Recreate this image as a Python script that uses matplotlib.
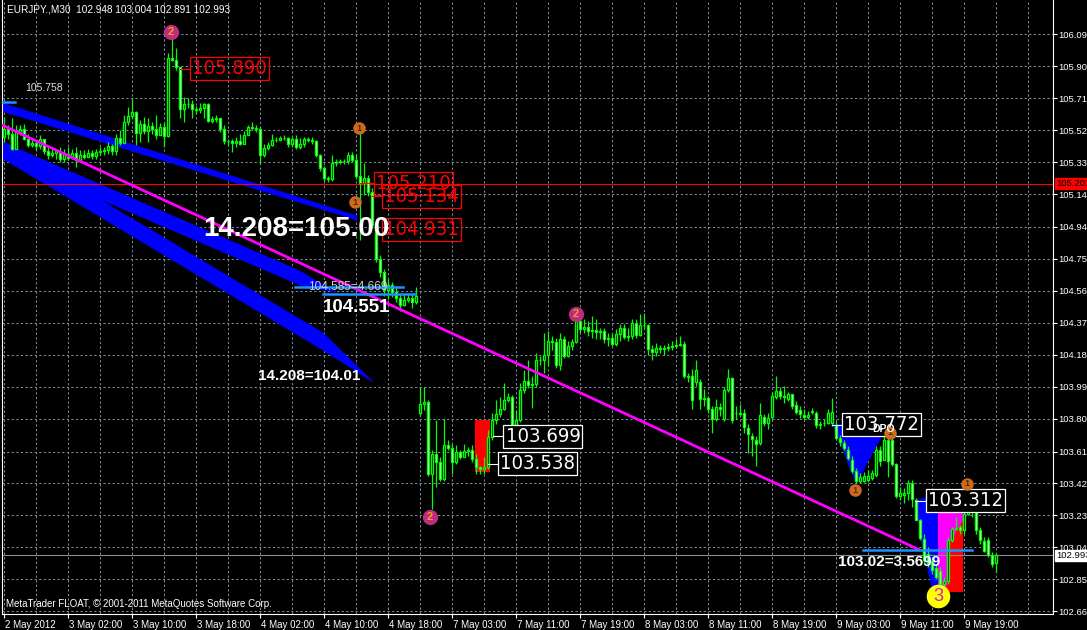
import matplotlib
matplotlib.use("Agg")
import matplotlib.pyplot as plt
import numpy as np
from matplotlib import font_manager
from matplotlib.patches import Polygon
from matplotlib.transforms import blended_transform_factory, ScaledTranslation

plt.rcParams["font.family"] = ["Liberation Sans", "DejaVu Sans"]

# ---- EURJPY M30 candles ----
opens = [
    105.480, 105.530, 105.500, 105.410, 105.510, 105.530, 105.470, 105.434, 105.446, 105.426,
    105.466, 105.394, 105.374, 105.386, 105.394, 105.350, 105.380, 105.354, 105.386, 105.340,
    105.374, 105.360, 105.386, 105.366, 105.390, 105.394, 105.400, 105.426, 105.394, 105.474,
    105.446, 105.566, 105.606, 105.626, 105.506, 105.554, 105.514, 105.546, 105.526, 105.494,
    105.538, 105.486, 105.950, 105.938, 105.894, 105.646, 105.674, 105.678, 105.646, 105.642,
    105.650, 105.674, 105.574, 105.586, 105.590, 105.530, 105.454, 105.454, 105.442, 105.458,
    105.438, 105.494, 105.542, 105.534, 105.530, 105.374, 105.414, 105.430, 105.462, 105.460,
    105.472, 105.476, 105.438, 105.470, 105.422, 105.436, 105.466, 105.462, 105.454, 105.370,
    105.294, 105.234, 105.230, 105.326, 105.330, 105.336, 105.336, 105.370, 105.342, 105.250,
    105.206, 105.236, 105.152, 104.956, 104.756, 104.680, 104.572, 104.600, 104.560, 104.520,
    104.480, 104.512, 104.520, 104.500, 103.840, 103.892, 103.906, 103.476, 103.596, 103.546,
    103.446, 103.646, 103.632, 103.546, 103.606, 103.580, 103.612, 103.620, 103.566, 103.516,
    103.506, 103.520, 103.696, 103.796, 103.832, 103.864, 103.916, 103.932, 103.766, 103.800,
    103.976, 104.032, 104.006, 104.012, 104.156, 104.156, 104.186, 104.266, 104.260, 104.126,
    104.276, 104.180, 104.240, 104.260, 104.386, 104.340, 104.352, 104.324, 104.332, 104.320,
    104.328, 104.280, 104.284, 104.252, 104.306, 104.344, 104.288, 104.296, 104.372, 104.300,
    104.364, 104.360, 104.220, 104.204, 104.228, 104.220, 104.224, 104.232, 104.236, 104.244,
    104.252, 104.056,
    104.057, 104.021, 104.021, 103.925, 103.929, 103.865, 103.805, 103.877, 103.805, 103.977,
    104.045, 103.837, 103.841, 103.837, 103.749, 103.701, 103.681, 103.661, 103.817, 103.777,
    103.813, 103.933, 103.969, 103.941, 103.925, 103.949, 103.885, 103.857, 103.829, 103.813,
    103.845, 103.841, 103.765, 103.777, 103.777, 103.781, 103.769, 103.693, 103.661, 103.621,
    103.561, 103.493, 103.433, 103.433, 103.441, 103.453, 103.473, 103.617, 103.561, 103.677,
    103.681, 103.533, 103.345, 103.353, 103.365, 103.421, 103.321, 103.201, 103.089, 103.001,
    102.957, 102.917, 102.897, 102.825, 102.841, 103.081, 103.149, 103.161, 103.141, 103.241,
    103.325, 103.261, 103.141, 103.077, 103.081, 102.993, 102.948,
]
closes = [
    105.530, 105.500, 105.410, 105.510, 105.530, 105.470, 105.434, 105.446, 105.426, 105.466,
    105.394, 105.374, 105.386, 105.394, 105.350, 105.380, 105.354, 105.386, 105.340, 105.374,
    105.360, 105.386, 105.366, 105.390, 105.394, 105.400, 105.426, 105.394, 105.474, 105.446,
    105.566, 105.606, 105.626, 105.506, 105.554, 105.514, 105.546, 105.526, 105.494, 105.538,
    105.486, 105.950, 105.938, 105.894, 105.646, 105.674, 105.678, 105.646, 105.642, 105.650,
    105.674, 105.574, 105.586, 105.590, 105.530, 105.454, 105.454, 105.442, 105.458, 105.438,
    105.494, 105.542, 105.534, 105.530, 105.374, 105.414, 105.430, 105.462, 105.460, 105.472,
    105.476, 105.438, 105.470, 105.422, 105.436, 105.466, 105.462, 105.454, 105.370, 105.294,
    105.234, 105.230, 105.326, 105.330, 105.336, 105.336, 105.370, 105.342, 105.250, 105.206,
    105.236, 105.152, 104.956, 104.756, 104.680, 104.572, 104.600, 104.560, 104.520, 104.480,
    104.512, 104.520, 104.500, 104.532, 103.892, 103.906, 103.476, 103.596, 103.546, 103.446,
    103.646, 103.632, 103.546, 103.606, 103.580, 103.612, 103.620, 103.566, 103.516, 103.506,
    103.520, 103.696, 103.796, 103.832, 103.864, 103.916, 103.932, 103.766, 103.800, 103.976,
    104.032, 104.006, 104.012, 104.156, 104.156, 104.186, 104.266, 104.260, 104.126, 104.276,
    104.180, 104.240, 104.260, 104.386, 104.340, 104.352, 104.324, 104.332, 104.320, 104.328,
    104.280, 104.284, 104.252, 104.306, 104.344, 104.288, 104.296, 104.372, 104.300, 104.364,
    104.360, 104.220, 104.204, 104.228, 104.220, 104.224, 104.232, 104.236, 104.244, 104.252,
    104.056, 104.052,
    103.917, 104.097, 103.925, 103.929, 103.865, 103.805, 103.877, 103.865, 103.977, 104.045,
    103.797, 103.841, 103.833, 103.753, 103.713, 103.685, 103.653, 103.829, 103.777, 103.809,
    103.937, 103.969, 103.941, 103.933, 103.949, 103.881, 103.845, 103.833, 103.813, 103.829,
    103.849, 103.765, 103.773, 103.781, 103.837, 103.845, 103.693, 103.665, 103.633, 103.573,
    103.493, 103.433, 103.461, 103.465, 103.465, 103.481, 103.617, 103.553, 103.677, 103.553,
    103.533, 103.345, 103.361, 103.365, 103.421, 103.325, 103.205, 103.093, 102.965, 102.945,
    102.905, 102.865, 102.825, 102.841, 103.081, 103.149, 103.157, 103.145, 103.241, 103.325,
    103.265, 103.141, 103.081, 103.021, 102.993, 102.941, 102.993,
]
highs = [
    105.590, 105.550, 105.590, 105.550, 105.550, 105.554, 105.500, 105.470, 105.460, 105.490,
    105.460, 105.420, 105.410, 105.410, 105.420, 105.410, 105.420, 105.410, 105.420, 105.400,
    105.400, 105.410, 105.400, 105.410, 105.420, 105.420, 105.450, 105.440, 105.500, 105.520,
    105.610, 105.660, 105.710, 105.634, 105.580, 105.600, 105.590, 105.570, 105.610, 105.560,
    105.560, 105.980, 106.070, 106.010, 105.894, 105.720, 105.710, 105.700, 105.666, 105.680,
    105.680, 105.680, 105.606, 105.610, 105.590, 105.550, 105.470, 105.470, 105.480, 105.500,
    105.514, 105.550, 105.566, 105.550, 105.540, 105.440, 105.450, 105.500, 105.480, 105.486,
    105.490, 105.480, 105.480, 105.490, 105.474, 105.480, 105.480, 105.480, 105.460, 105.380,
    105.310, 105.250, 105.370, 105.350, 105.350, 105.350, 105.390, 105.390, 105.380, 105.510,
    105.326, 105.256, 105.176, 104.976, 104.776, 104.696, 104.636, 104.616, 104.586, 104.546,
    104.546, 104.546, 104.546, 104.586, 103.996, 103.996, 103.916, 103.616, 103.796, 103.576,
    103.806, 103.676, 103.656, 103.646, 103.616, 103.656, 103.636, 103.646, 103.596, 103.526,
    103.576, 103.736, 103.836, 103.916, 103.936, 104.016, 103.956, 103.946, 103.856, 104.016,
    104.096, 104.156, 104.056, 104.196, 104.176, 104.316, 104.326, 104.296, 104.286, 104.316,
    104.296, 104.266, 104.276, 104.436, 104.426, 104.396, 104.386, 104.416, 104.396, 104.346,
    104.346, 104.316, 104.316, 104.336, 104.366, 104.366, 104.346, 104.396, 104.396, 104.426,
    104.436, 104.366, 104.246, 104.256, 104.246, 104.246, 104.256, 104.266, 104.276, 104.296,
    104.266, 104.076,
    104.101, 104.151, 104.041, 103.981, 103.941, 103.881, 103.921, 103.901, 103.991, 104.101,
    104.051, 103.881, 103.891, 103.861, 103.771, 103.721, 103.701, 103.901, 103.831, 103.841,
    103.961, 104.061, 103.991, 104.001, 103.961, 103.951, 103.911, 103.881, 103.861, 103.851,
    103.871, 103.851, 103.791, 103.801, 103.861, 103.931, 103.791, 103.711, 103.681, 103.641,
    103.581, 103.511, 103.481, 103.491, 103.501, 103.501, 103.641, 103.641, 103.701, 103.701,
    103.731, 103.541, 103.401, 103.391, 103.441, 103.441, 103.331, 103.211, 103.121, 103.041,
    102.981, 102.941, 102.921, 102.861, 103.101, 103.161, 103.221, 103.171, 103.261, 103.381,
    103.341, 103.271, 103.161, 103.101, 103.101, 103.011, 103.004,
]
lows = [
    105.450, 105.470, 105.400, 105.410, 105.490, 105.460, 105.420, 105.420, 105.400, 105.410,
    105.380, 105.350, 105.360, 105.350, 105.330, 105.330, 105.340, 105.350, 105.300, 105.330,
    105.350, 105.360, 105.350, 105.350, 105.370, 105.370, 105.380, 105.370, 105.370, 105.430,
    105.470, 105.550, 105.590, 105.430, 105.450, 105.500, 105.450, 105.500, 105.470, 105.500,
    105.420, 105.480, 105.930, 105.880, 105.590, 105.570, 105.650, 105.590, 105.620, 105.620,
    105.590, 105.566, 105.560, 105.570, 105.510, 105.440, 105.430, 105.390, 105.420, 105.430,
    105.446, 105.490, 105.520, 105.510, 105.326, 105.360, 105.400, 105.426, 105.450, 105.460,
    105.460, 105.420, 105.420, 105.410, 105.406, 105.420, 105.450, 105.440, 105.360, 105.280,
    105.220, 105.210, 105.220, 105.310, 105.320, 105.320, 105.320, 105.330, 105.230, 104.870,
    105.136, 105.126, 104.936, 104.736, 104.646, 104.536, 104.516, 104.526, 104.496, 104.446,
    104.476, 104.496, 104.466, 104.486, 103.826, 103.856, 103.466, 103.266, 103.396, 103.436,
    103.436, 103.616, 103.476, 103.536, 103.566, 103.576, 103.586, 103.546, 103.476, 103.476,
    103.476, 103.506, 103.676, 103.776, 103.816, 103.856, 103.906, 103.756, 103.756, 103.786,
    103.956, 103.986, 103.866, 103.996, 104.126, 104.076, 104.126, 104.216, 104.106, 104.096,
    104.166, 104.172, 104.216, 104.256, 104.316, 104.316, 104.296, 104.286, 104.276, 104.276,
    104.256, 104.236, 104.236, 104.236, 104.266, 104.276, 104.266, 104.276, 104.286, 104.296,
    104.346, 104.186, 104.156, 104.176, 104.196, 104.186, 104.206, 104.216, 104.226, 104.236,
    104.046, 104.026,
    103.861, 104.001, 103.861, 103.881, 103.841, 103.721, 103.791, 103.821, 103.791, 103.961,
    103.781, 103.801, 103.821, 103.721, 103.601, 103.581, 103.521, 103.651, 103.761, 103.741,
    103.801, 103.921, 103.921, 103.901, 103.911, 103.861, 103.831, 103.811, 103.801, 103.801,
    103.831, 103.751, 103.741, 103.761, 103.771, 103.761, 103.681, 103.641, 103.621, 103.561,
    103.481, 103.421, 103.421, 103.431, 103.431, 103.441, 103.461, 103.521, 103.561, 103.461,
    103.521, 103.331, 103.321, 103.301, 103.321, 103.281, 103.201, 103.081, 102.941, 102.921,
    102.881, 102.851, 102.801, 102.811, 102.821, 103.071, 103.141, 103.121, 103.121, 103.231,
    103.221, 103.121, 103.061, 103.011, 102.981, 102.921, 102.891,
]

ytick_vals = [106.090, 105.900, 105.710, 105.520, 105.330, 105.140, 104.945, 104.755,
              104.565, 104.375, 104.185, 103.995, 103.805, 103.610, 103.420, 103.230,
              103.040, 102.850, 102.660]
xtick_bars = list(range(0, 241, 16))
xtick_labels = ["2 May 2012", "3 May 02:00", "3 May 10:00", "3 May 18:00", "4 May 02:00",
                "4 May 10:00", "4 May 18:00", "7 May 03:00", "7 May 11:00", "7 May 19:00",
                "8 May 03:00", "8 May 11:00", "8 May 19:00", "9 May 03:00", "9 May 11:00",
                "9 May 19:00"]

# indicator objects (bar index, price)
band1 = [(-0.4, 105.682), (88.4, 105.010), (88.4, 104.986), (-0.4, 105.634)]
band2 = [(-0.4, 105.450), (74.1, 104.683), (82.9, 104.558), (74.1, 104.600), (-0.4, 105.361)]
band3 = [(-0.4, 105.456), (79.9, 104.314), (92.4, 104.023), (79.9, 104.213), (-0.4, 105.355)]
trend_line = [(-0.4, 105.551), (229.1, 103.024)]
blue_levels = [(-0.1, 2.9, 105.689), (72.9, 99.9, 104.588), (79.9, 102.9, 104.546),
               (214.9, 242.1, 103.022)]
red_zone = [(117.9, 103.797), (121.6, 103.797), (121.6, 103.488), (117.9, 103.488)]
dpo_blue = [(207.1, 103.773), (221.6, 103.773), (219.1, 103.678), (216.1, 103.547),
            (213.4, 103.417), (211.6, 103.500), (209.9, 103.619), (208.4, 103.708)]
end_blue = [(227.9, 103.321), (239.9, 103.393), (239.9, 103.244), (233.6, 103.244),
            (233.6, 102.816), (232.1, 102.798), (229.6, 103.054)]
end_magenta = [(233.6, 103.244), (239.9, 103.256), (239.9, 103.173), (235.9, 103.036),
               (235.9, 102.798), (233.6, 102.798)]
end_red = [(235.9, 103.036), (239.9, 103.203), (239.9, 102.775), (235.9, 102.775)]

# boxed price labels: text, leader start, leader end, price, colour
price_boxes = [
    ("105.890", 44.1, 46.6, 105.884, "#FF0000"),
    ("105.210", 89.1, 92.6, 105.206, "#FF0000"),
    ("105.134", 92.1, 94.6, 105.128, "#FF0000"),
    ("104.931", 94.6, 94.6, 104.927, "#FF0000"),
    ("103.699", 122.4, 124.9, 103.702, "#FFFFFF"),
    ("103.538", 121.1, 123.6, 103.536, "#FFFFFF"),
    ("103.772", 207.1, 209.6, 103.770, "#FFFFFF"),
    ("103.312", 227.9, 230.6, 103.316, "#FFFFFF"),
]
# wave markers: label, bar, price
wave_marks_2 = [("2", 41.9, 106.104), ("2", 143.1, 104.427), ("2", 106.6, 103.220)]
wave_marks_1 = [("1", 88.9, 105.533), ("1", 87.9, 105.093), ("1", 212.9, 103.381),
                ("1", 240.9, 103.417), ("1", 221.6, 103.720)]
wave_marks_3 = [("3", 233.6, 102.751)]

last_price = 102.993
red_level = 105.201

W, H = 1087, 630
fig = plt.figure(figsize=(W / 100, H / 100), dpi=100, facecolor="black")
ax = fig.add_axes([2 / W, 16 / H, 1051 / W, 614 / H])
ax.set_facecolor("black")
ax.set_xlim(-0.375, 262.375)
ax.set_ylim(102.644, 106.294)

grid_kw = dict(color="#778899", lw=0.75, dashes=(2.2, 2.2), zorder=1)
for v in ytick_vals:
    ax.axhline(v, **grid_kw)
for b in range(0, 263, 8):
    ax.axvline(b, **grid_kw)

for poly in (band1, band2, band3):
    ax.add_patch(Polygon(poly, closed=True, fc="#0000FF", ec="#0000FF", lw=0.5, zorder=2))
ax.add_patch(Polygon(red_zone, closed=True, fc="#FF0000", ec="none", zorder=2))
ax.add_patch(Polygon(dpo_blue, closed=True, fc="#0000FF", ec="none", zorder=2))
ax.add_patch(Polygon(end_blue, closed=True, fc="#0000FF", ec="none", zorder=2))
ax.add_patch(Polygon(end_magenta, closed=True, fc="#FF00FF", ec="none", zorder=2))
ax.add_patch(Polygon(end_red, closed=True, fc="#FF0000", ec="none", zorder=2))

ax.axhline(red_level, color="#FF0000", lw=0.8, zorder=2.5)
ax.axhline(last_price, color="#8C8C8C", lw=0.8, zorder=2.5)

# candles: bull body black, bear body white, lime outline and wick
o = np.array(opens)
c = np.array(closes)
hi = np.maximum(np.array(highs), np.maximum(o, c))
lo = np.minimum(np.array(lows), np.minimum(o, c))
x = np.arange(len(c))
ax.vlines(x, lo, hi, color="#00FF00", lw=0.9, zorder=3)
fill = np.where(c > o, "black", "white")
ax.bar(x, np.abs(c - o), bottom=np.minimum(o, c), width=0.5, color=fill,
       edgecolor="#00FF00", linewidth=0.95, zorder=3.2)

(tx0, ty0), (tx1, ty1) = trend_line
ax.plot([tx0, tx1], [ty0, ty1], color="#FF00FF", lw=2.0, zorder=4, solid_capstyle="butt")
for x0, x1, yv in blue_levels:
    ax.plot([x0, x1], [yv, yv], color="#1E90FF", lw=1.8, zorder=4)

# boxed labels
narrow = any(f.name == "Liberation Sans Narrow" for f in font_manager.fontManager.ttflist)
box_font = dict(family="Liberation Sans Narrow", fontsize=17) if narrow else \
    dict(family="DejaVu Sans", fontstretch="condensed", fontsize=14.5)
for txt, lx0, lx1, pv, col in price_boxes:
    if lx1 > lx0:
        ax.plot([lx0, lx1], [pv, pv], color=col, lw=0.8, zorder=5)
    fc = "black" if col == "#FFFFFF" else "none"
    ax.text(lx1 + 0.6, pv, txt, color=col, ha="left", va="center", zorder=6,
            bbox=dict(boxstyle="square,pad=0.1", fc=fc, ec=col, lw=0.9), **box_font)

# free texts
ax.text(49.9, 104.933, "14.208=105.00", color="white", fontsize=20, fontweight="bold",
        ha="left", va="center", zorder=7)
ax.text(79.9, 104.466, "104.551", color="white", fontsize=13.5, fontweight="bold",
        ha="left", va="center", zorder=7)
ax.text(63.6, 104.059, "14.208=104.01", color="white", fontsize=11, fontweight="bold",
        ha="left", va="center", zorder=7)
ax.text(208.6, 102.953, "103.02=3.5699", color="white", fontsize=11, fontweight="bold",
        ha="left", va="center", zorder=7)
ax.text(76.1, 104.590, "104.585=4.669", color="#D0D0D0", fontsize=8.5,
        ha="left", va="center", zorder=4.5)
ax.text(5.4, 105.771, "105.758", color="#E0E0E0", fontsize=7.5,
        ha="left", va="center", zorder=4.5)
ax.text(217.1, 103.744, "DPO", color="white", fontsize=7.5, fontweight="bold",
        ha="left", va="center", zorder=7)

for lbl, bx, pv in wave_marks_2:
    ax.plot(bx, pv, "o", ms=11, mfc="#C02A80", mec="none", zorder=6.5)
    ax.text(bx, pv, lbl, color="#E8A020", fontsize=8, fontweight="bold",
            ha="center", va="center", zorder=6.6)
for lbl, bx, pv in wave_marks_1:
    ax.plot(bx, pv, "o", ms=9, mfc="#CC6A1E", mec="none", zorder=6.5)
    ax.text(bx, pv, lbl, color="#5A2A00", fontsize=6.5, fontweight="bold",
            ha="center", va="center", zorder=6.6)
for lbl, bx, pv in wave_marks_3:
    ax.plot(bx, pv, "o", ms=17, mfc="#FFFF00", mec="none", zorder=6.5)
    ax.text(bx, pv, lbl, color="#CC22CC", fontsize=13, ha="center", va="center", zorder=6.6)

ax.text(5 / 1051, 1 - 10 / 614, "EURJPY.,M30  102.948 103.004 102.891 102.993",
        transform=ax.transAxes, color="white", fontsize=7.2, ha="left", va="center", zorder=8)
ax.text(4 / 1051, 10 / 614, "MetaTrader FLOAT, \u00a9 2001-2011 MetaQuotes Software Corp.",
        transform=ax.transAxes, color="white", fontsize=7, ha="left", va="center", zorder=8)

# axes
for side in ("left", "right", "bottom"):
    ax.spines[side].set_color("white")
    ax.spines[side].set_linewidth(0.8)
ax.spines["top"].set_visible(False)
ax.yaxis.tick_right()
ax.set_yticks(ytick_vals)
ax.set_yticklabels([f"{v:.3f}" for v in ytick_vals])
ax.tick_params(axis="y", colors="white", labelsize=6.8, length=3, width=0.8, pad=1)
ax.set_xticks(xtick_bars)
ax.set_xticklabels(xtick_labels)
ax.tick_params(axis="x", colors="white", labelsize=7, length=3, width=0.8, pad=1)
shift = ScaledTranslation(1.5 / 100, 0, fig.dpi_scale_trans)
for t in ax.get_xticklabels():
    t.set_ha("left")
    t.set_transform(t.get_transform() + shift)

ytrans = blended_transform_factory(ax.transAxes, ax.transData)
ax.text(1 + 3 / 1051, red_level, f"{red_level:.3f}", transform=ytrans, color="black",
        fontsize=6.8, ha="left", va="center", clip_on=False, zorder=9,
        bbox=dict(boxstyle="square,pad=0.12", fc="#FF0000", ec="#FF0000"))
ax.text(1 + 3 / 1051, last_price, f"{last_price:.3f}", transform=ytrans, color="black",
        fontsize=6.8, ha="left", va="center", clip_on=False, zorder=9,
        bbox=dict(boxstyle="square,pad=0.12", fc="white", ec="white"))

fig.savefig("out.png", dpi=100, facecolor="black")
